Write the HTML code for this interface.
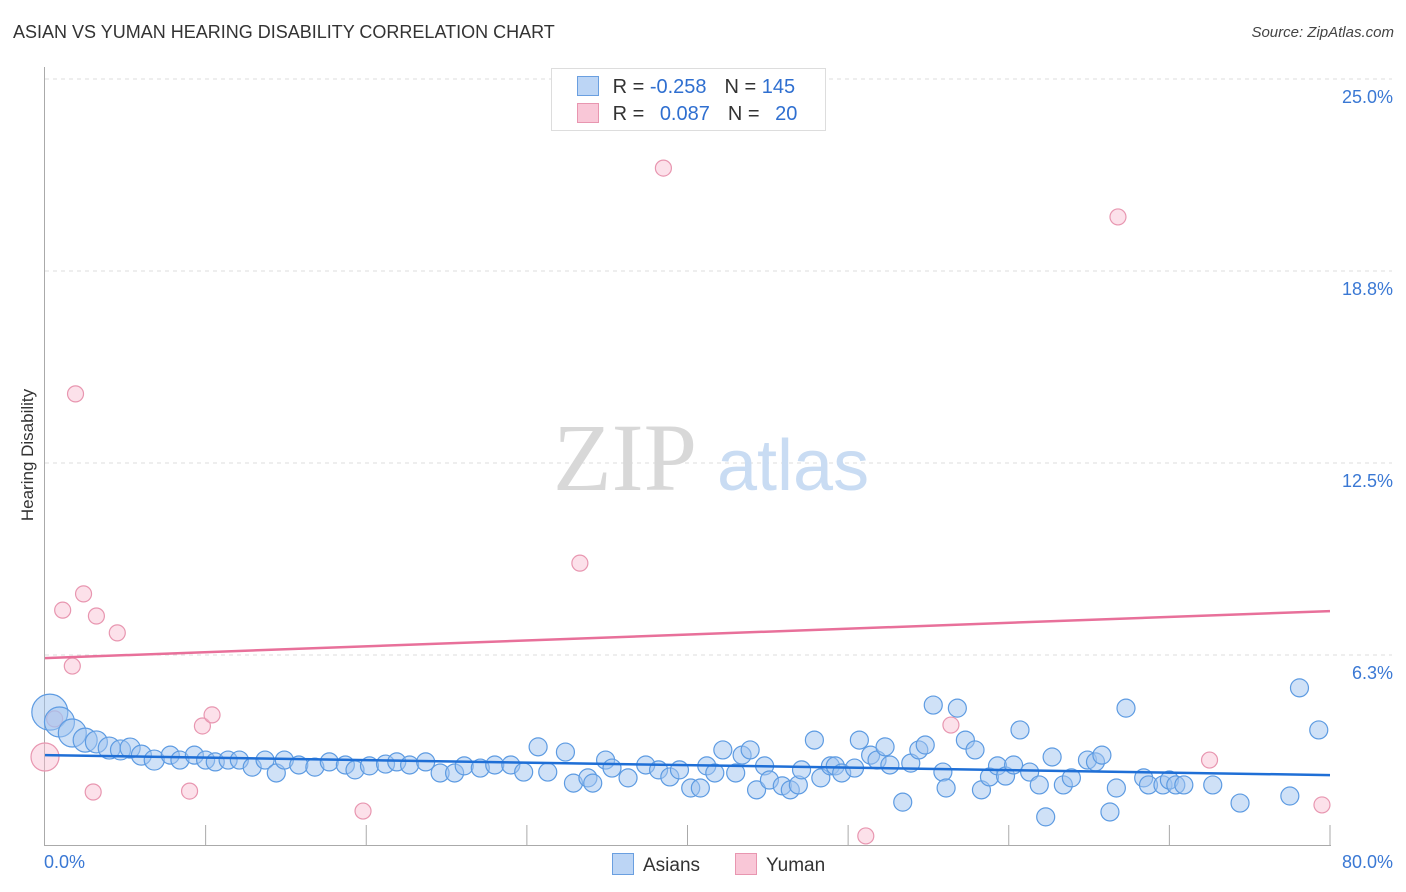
<!DOCTYPE html>
<html><head><meta charset="utf-8"><style>
body{margin:0;background:#fff;font-family:"Liberation Sans",sans-serif;}
#wrap{position:relative;width:1406px;height:892px;overflow:hidden;}
.t{position:absolute;white-space:nowrap;}
</style></head><body>
<div id="wrap">
<div class="t" style="left:13px;top:22px;font-size:18px;color:#333;">ASIAN VS YUMAN HEARING DISABILITY CORRELATION CHART</div>
<div class="t" style="right:12px;top:24px;font-size:15px;color:#444;font-style:italic;">Source: ZipAtlas.com</div>
<svg id="plot" width="1406" height="892" style="position:absolute;left:0;top:0"></svg>
</div>
<script>
const yTicks=[6.25,12.5,18.75,25];
const yTickLabels=["6.3%","12.5%","18.8%","25.0%"];
const xTickVals=[0,10,20,30,40,50,60,70,80];
const asianX=[0.3,0.9,1.7,2.5,3.2,4.0,4.7,5.3,6.0,6.8,7.8,8.4,9.3,10.0,10.6,11.4,12.1,12.9,13.7,14.4,14.9,15.8,16.8,17.7,18.7,19.3,20.2,21.2,21.9,22.7,23.7,24.6,25.5,26.1,27.1,28.0,29.0,29.8,30.7,31.3,32.4,32.9,33.8,34.1,34.9,35.3,36.3,37.4,38.2,38.9,39.5,40.2,40.8,41.2,41.7,42.2,43.0,43.4,43.9,44.3,44.8,45.1,45.9,46.4,46.9,47.1,47.9,48.3,48.9,49.2,49.6,50.4,50.7,51.4,51.8,52.3,52.6,53.4,53.9,54.4,54.8,55.3,55.9,56.1,56.8,57.3,57.9,58.3,58.8,59.3,59.8,60.3,60.7,61.3,61.9,62.3,62.7,63.4,63.9,64.9,65.4,65.8,66.3,66.7,67.3,68.4,68.7,69.6,70.0,70.4,70.9,72.7,74.4,77.5,78.1,79.3];
const asianY=[4.39,4.07,3.71,3.48,3.42,3.22,3.16,3.22,2.99,2.83,2.99,2.83,2.99,2.83,2.77,2.83,2.83,2.60,2.83,2.41,2.83,2.67,2.60,2.77,2.67,2.51,2.64,2.70,2.77,2.67,2.77,2.41,2.41,2.64,2.57,2.67,2.67,2.44,3.26,2.44,3.09,2.08,2.25,2.08,2.83,2.57,2.25,2.67,2.51,2.28,2.51,1.92,1.92,2.64,2.41,3.16,2.41,2.99,3.16,1.86,2.64,2.18,1.99,1.86,2.02,2.51,3.48,2.25,2.64,2.64,2.41,2.57,3.48,2.99,2.83,3.26,2.67,1.46,2.73,3.16,3.32,4.62,2.44,1.92,4.52,3.48,3.16,1.86,2.28,2.64,2.31,2.67,3.81,2.44,2.02,0.98,2.93,2.02,2.25,2.83,2.77,2.99,1.14,1.92,4.52,2.25,2.02,2.02,2.18,2.02,2.02,2.02,1.43,1.66,5.18,3.81];
const asianBig=[18,15,14,12,11,11,10,10,10,10];
const yumanX=[0,0.6,1.1,1.9,2.4,3.0,3.2,4.5,1.7,9.0,9.8,10.4,19.8,33.3,38.5,51.1,56.4,66.8,72.5,79.5];
const yumanY=[2.93,4.17,7.71,14.75,8.24,1.79,7.52,6.97,5.89,1.82,3.94,4.30,1.17,9.24,22.10,0.36,3.97,20.51,2.83,1.37];
const asianTrend=[2.99,2.34];
const yumanTrend=[6.15,7.68];
const X0=45,X1=1330,Y0=847,YS=30.72;
const sx=v=>X0+(v/80)*(X1-X0);
const sy=v=>Y0-v*YS;
const svg=document.getElementById('plot');
const NS='http://www.w3.org/2000/svg';
function mk(tag,at){const e=document.createElementNS(NS,tag);for(const k in at)e.setAttribute(k,at[k]);svg.appendChild(e);return e;}
// gridlines
yTicks.forEach((v,i)=>{
 const g=mk('line',{x1:45,x2:1392,y1:sy(v),y2:sy(v),stroke:'#ddd','stroke-dasharray':'4,4'});
 
 
 const t=mk('text',{x:1393,y:sy(v)+24,'text-anchor':'end','font-size':18,fill:'#3a78d4','font-family':'Liberation Sans, sans-serif'});
 t.textContent=yTickLabels[i];
 
 
});
// watermark
const wm=mk('text',{x:553,y:490,'font-size':96,fill:'#d8d8d8','font-family':'Liberation Serif, serif'});wm.textContent='ZIP';


const wm2=mk('text',{x:717,y:490,'font-size':72,fill:'#c9dcf3','font-family':'Liberation Sans, sans-serif'});wm2.textContent='atlas';


// axes
const ya=mk('line',{x1:44.5,x2:44.5,y1:67,y2:845,stroke:'#aaa'});


const xa=mk('line',{x1:44,x2:1331,y1:845.5,y2:845.5,stroke:'#aaa'});


xTickVals.forEach(v=>{if(v===0)return;const t=mk('line',{x1:sx(v),x2:sx(v),y1:825,y2:845,stroke:'#aaa'});
 
 });
// yuman points
yumanX.forEach((x,i)=>{const c=mk('circle',{cx:sx(x),cy:sy(yumanY[i]),r:i===0?14:8,fill:'rgba(248,188,208,0.45)',stroke:'#e896b0','stroke-width':1.2});
 
 });
// asian points
asianX.forEach((x,i)=>{const c=mk('circle',{cx:sx(x),cy:sy(asianY[i]),r:i<asianBig.length?asianBig[i]:9,fill:'rgba(160,196,240,0.5)',stroke:'#5d9be2','stroke-width':1.2});
 
 });
// trends
const tb=mk('line',{x1:sx(0),x2:sx(80),y1:sy(asianTrend[0]),y2:sy(asianTrend[1]),stroke:'#1f6fd6','stroke-width':2.5});


const tp=mk('line',{x1:sx(0),x2:sx(80),y1:sy(yumanTrend[0]),y2:sy(yumanTrend[1]),stroke:'#e8709a','stroke-width':2.5});


</script>
<div class="t" style="left:44px;top:852px;font-size:18px;color:#3a78d4;">0.0%</div>
<div class="t" style="right:13px;top:852px;font-size:18px;color:#3a78d4;">80.0%</div>
<div class="t" style="left:28px;top:455px;font-size:17px;color:#333;transform:translate(-50%,-50%) rotate(-90deg);">Hearing Disability</div>
<div style="position:absolute;left:551px;top:68px;width:273px;height:61px;border:1px solid #ddd;background:#fff;font-size:20px;">
 <div style="position:absolute;left:25px;top:7px;white-space:nowrap;">
  <span style="display:inline-block;width:20px;height:18px;background:#bcd5f5;border:1px solid #6a9fe0;vertical-align:-3px;"></span>
  <span style="color:#333;margin-left:8px;">R = </span><span style="color:#2f6fd0;">-0.258</span><span style="color:#333;margin-left:18px;">N = </span><span style="color:#2f6fd0;">145</span></div>
 <div style="position:absolute;left:25px;top:34px;white-space:nowrap;">
  <span style="display:inline-block;width:20px;height:18px;background:#f9c7d7;border:1px solid #e896b0;vertical-align:-3px;"></span>
  <span style="color:#333;margin-left:8px;">R = </span><span style="color:#2f6fd0;margin-left:10px;">0.087</span><span style="color:#333;margin-left:18px;">N = </span><span style="color:#2f6fd0;margin-left:10px;">20</span></div>
</div>
<div style="position:absolute;left:612px;top:853px;font-size:19px;color:#333;white-space:nowrap;">
 <span style="display:inline-block;width:20px;height:20px;background:#bcd5f5;border:1px solid #6a9fe0;vertical-align:-4px;"></span><span style="margin-left:9px;">Asians</span></div>
<div style="position:absolute;left:735px;top:853px;font-size:19px;color:#333;white-space:nowrap;">
 <span style="display:inline-block;width:20px;height:20px;background:#f9c7d7;border:1px solid #e896b0;vertical-align:-4px;"></span><span style="margin-left:9px;">Yuman</span></div>
</body></html>
